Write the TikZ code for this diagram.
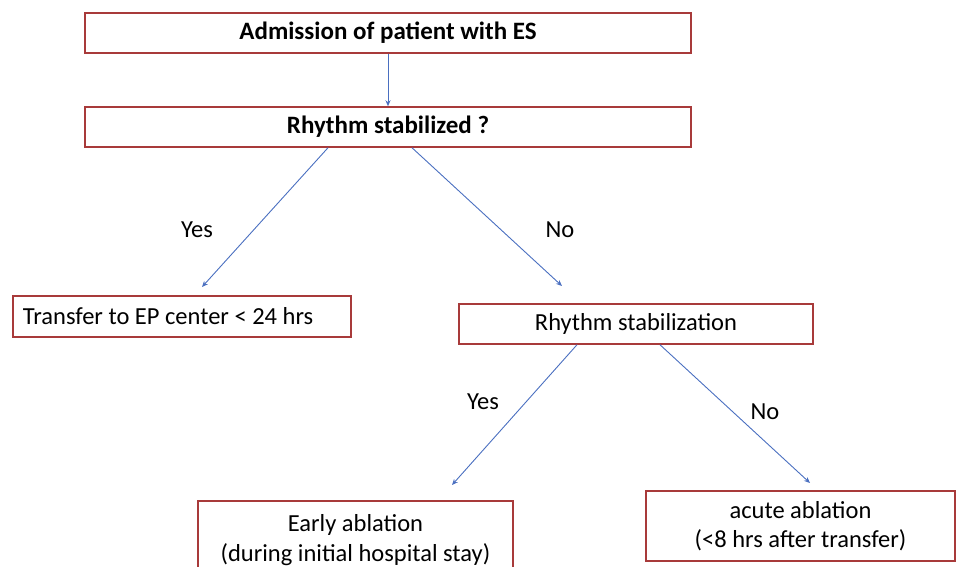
\documentclass[tikz,border=0pt]{standalone}
\usepackage{fontspec}
\setmainfont{Carlito}
\usetikzlibrary{arrows.meta,shadows}
\definecolor{boxred}{HTML}{A83A3A}
\definecolor{arrowblue}{HTML}{4A6FC0}
\begin{document}
\begin{tikzpicture}[x=1pt,y=-1pt,
  box/.style={draw=boxred,line width=1.5pt,fill=white,inner sep=0pt,align=center,
    drop shadow={opacity=0.18,shadow xshift=1pt,shadow yshift=-1pt},
    font=\fontsize{24.5}{29}\selectfont},
  boldbox/.style={box,font=\fontsize{25}{29}\selectfont\bfseries},
  conn/.style={draw=arrowblue,line width=0.9pt,-{Stealth[length=6pt,width=5pt]}},
  lab/.style={font=\fontsize{24.5}{29}\selectfont,inner sep=0pt}]
\useasboundingbox (0,0) rectangle (956,567);
\clip (0,0) rectangle (956,567);

\node[boldbox,minimum width=606pt,minimum height=40pt] (b1) at (388,33) {Admission of patient with ES};
\node[boldbox,minimum width=606pt,minimum height=40pt] (b2) at (388,127) {Rhythm stabilized ?};
\node[box,minimum width=338pt,minimum height=41pt,text width=318pt,align=flush left,inner xsep=10pt] (b3) at (182,316.5) {Transfer to EP center < 24 hrs};
\node[box,minimum width=354pt,minimum height=40pt] (b4) at (636,324) {Rhythm stabilization};
\node[box,minimum width=315pt,minimum height=78pt] (b5) at (355.5,540) {Early ablation\\[1pt](during initial hospital stay)};
\node[box,minimum width=309pt,minimum height=70pt] (b6) at (800.5,526) {acute ablation\\(<8 hrs after transfer)};

\coordinate (e1) at (202,287);
\coordinate (e2) at (562,286);
\coordinate (e3) at (452,485);
\coordinate (e4) at (810,483);

\draw[conn] (b1.south) -- (b2.north);
\draw[conn] ([xshift=-60pt]b2.south) -- (e1);
\draw[conn] ([xshift=24pt]b2.south) -- (e2);
\draw[conn] ([xshift=-59pt]b4.south) -- (e3);
\draw[conn] ([xshift=24pt]b4.south) -- (e4);

\node[lab] (y1) at (197,230) {Yes};
\node[lab] (n1) at (560,230) {No};
\node[lab] (y2) at (483,402) {Yes};
\node[lab] (n2) at (765,412) {No};
\end{tikzpicture}
\end{document}
